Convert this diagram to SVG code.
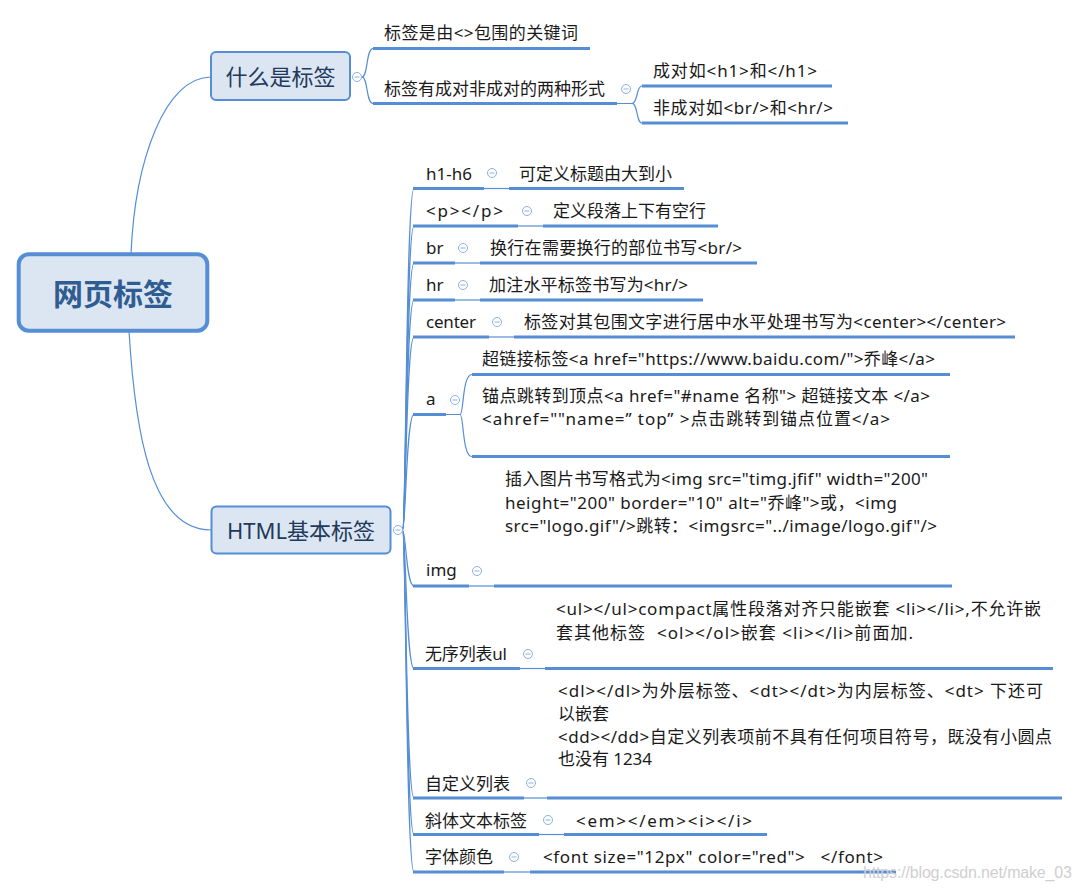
<svg xmlns="http://www.w3.org/2000/svg" xmlns:xlink="http://www.w3.org/1999/xlink" width="1081" height="889" viewBox="0 0 1081 889">
<style>
.t{font-family:'Noto Sans','Noto Sans CJK SC',sans-serif;font-size:17px;fill:#1a1a1a;white-space:pre}
.ln{fill:none;stroke:#558ED5;stroke-width:1.2}
.ul{fill:none;stroke:#558ED5;stroke-width:3}
.box{fill:#DCE6F2;stroke:#558ED5;stroke-width:2}
.bt{font-family:'Noto Sans','Noto Sans CJK SC',sans-serif;font-size:22px;fill:#22395c;text-anchor:middle}
.wm{font-family:'Liberation Sans',Arial,sans-serif;font-size:16px;fill:#cfcfcf}
</style>
<defs>
<g id="col"><circle r="4.5" fill="#fff" stroke="#8DB0E0" stroke-width="1"/><line x1="-2.5" x2="2.5" y1="0" y2="0" stroke="#8DB0E0" stroke-width="1"/></g>
</defs>
<rect width="1081" height="889" fill="#fff"/>
<g id="connectors">
<path class="ln" d="M131,254 C135,160 165,77 211,77"/>
<path class="ln" d="M129,331 C135,430 150,530 211,530"/>
<path class="ln" d="M362,77 C368,77 366,48.5 373,48.5"/>
<path class="ln" d="M362,77 C368,77 366,103.5 373,103.5"/>
<path class="ln" d="M617,103.5 L632,103.5 C638,103.5 636,86 642,86"/>
<path class="ln" d="M632,103.5 C638,103.5 636,123 642,123"/>
<path class="ln" d="M402.5,530 C406,530 406,188.5 414,188.5"/>
<path class="ln" d="M402.5,530 C406,530 406,226 414,226"/>
<path class="ln" d="M402.5,530 C406,530 406,263 414,263"/>
<path class="ln" d="M402.5,530 C406,530 406,300 414,300"/>
<path class="ln" d="M402.5,530 C406,530 406,337 414,337"/>
<path class="ln" d="M402.5,530 C406,530 406,414.5 414,414.5"/>
<path class="ln" d="M402.5,530 C406,530 406,586 414,586"/>
<path class="ln" d="M402.5,530 C406,530 406,668.5 414,668.5"/>
<path class="ln" d="M402.5,530 C406,530 406,798 414,798"/>
<path class="ln" d="M402.5,530 C406,530 406,834.5 414,834.5"/>
<path class="ln" d="M402.5,530 C406,530 406,872 414,872"/>
<path class="ln" d="M484,188.5 L509,188.5"/>
<path class="ln" d="M518,226 L543,226"/>
<path class="ln" d="M455,263 L480,263"/>
<path class="ln" d="M455,300 L480,300"/>
<path class="ln" d="M489,337 L514,337"/>
<path class="ln" d="M446,414.5 L460,414.5 C464,414.5 462,374.5 472,374.5"/>
<path class="ln" d="M460,414.5 C464,414.5 462,456.5 472,456.5"/>
<path class="ln" d="M469,586 L494,586"/>
<path class="ln" d="M520,668.5 L545,668.5"/>
<path class="ln" d="M524,798 L547,798"/>
<path class="ln" d="M539,834.5 L564,834.5"/>
<path class="ln" d="M504,872 L530,872"/>
</g>
<g id="root">
<rect x="18.7" y="254.3" width="188.6" height="76.4" rx="10" fill="#DCE6F2" stroke="#558ED5" stroke-width="4"/>
<text x="113" y="305" text-anchor="middle" style="font-family:'Noto Sans CJK SC',sans-serif;font-size:30px;font-weight:bold;fill:#305d91">网页标签</text>
</g>
<g id="what">
<rect class="box" x="211" y="52" width="139" height="48" rx="5"/>
<text class="bt" x="280.5" y="85">什么是标签</text>
<use href="#col" x="357" y="77"/>
</g>
<g id="what-1">
<text class="t" x="384" y="39" textLength="194">标签是由&lt;&gt;包围的关键词</text>
<line class="ul" x1="373" y1="48.5" x2="590" y2="48.5"/>
</g>
<g id="what-2">
<text class="t" x="384" y="94.5">标签有成对非成对的两种形式</text>
<line class="ul" x1="373" y1="103.5" x2="617" y2="103.5"/>
<use href="#col" x="626" y="89"/>
</g>
<g id="what-2-1">
<text class="t" x="653" y="77" textLength="164">成对如&lt;h1&gt;和&lt;/h1&gt;</text>
<line class="ul" x1="642" y1="86" x2="832" y2="86"/>
</g>
<g id="what-2-2">
<text class="t" x="653" y="114" textLength="180">非成对如&lt;br/&gt;和&lt;hr/&gt;</text>
<line class="ul" x1="642" y1="123" x2="848" y2="123"/>
</g>
<g id="html">
<rect class="box" x="211.5" y="506.5" width="179" height="47" rx="5"/>
<text class="bt" x="301" y="539">HTML基本标签</text>
<use href="#col" x="398" y="530"/>
</g>
<g id="h1h6">
<text class="t" x="426" y="179.5">h1-h6</text>
<line class="ul" x1="413" y1="188.5" x2="484" y2="188.5"/>
<use href="#col" x="492" y="173"/>
</g>
<g id="h1h6-1">
<text class="t" x="519" y="179.5">可定义标题由大到小</text>
<line class="ul" x1="509" y1="188.5" x2="684" y2="188.5"/>
</g>
<g id="p">
<text class="t" x="426" y="217" textLength="77">&lt;p&gt;&lt;/p&gt;</text>
<line class="ul" x1="413" y1="226" x2="518" y2="226"/>
<use href="#col" x="527" y="211"/>
</g>
<g id="p-1">
<text class="t" x="553" y="217">定义段落上下有空行</text>
<line class="ul" x1="543" y1="226" x2="718" y2="226"/>
</g>
<g id="br">
<text class="t" x="426" y="253.5">br</text>
<line class="ul" x1="413" y1="263" x2="455" y2="263"/>
<use href="#col" x="463" y="248"/>
</g>
<g id="br-1">
<text class="t" x="490" y="253.5" textLength="252">换行在需要换行的部位书写&lt;br/&gt;</text>
<line class="ul" x1="480" y1="263" x2="757" y2="263"/>
</g>
<g id="hr">
<text class="t" x="426" y="290.5">hr</text>
<line class="ul" x1="413" y1="300" x2="455" y2="300"/>
<use href="#col" x="463" y="285"/>
</g>
<g id="hr-1">
<text class="t" x="489" y="290.5" textLength="199">加注水平标签书写为&lt;hr/&gt;</text>
<line class="ul" x1="480" y1="300" x2="703" y2="300"/>
</g>
<g id="center">
<text class="t" x="426" y="327.5" textLength="50">center</text>
<line class="ul" x1="413" y1="337" x2="489" y2="337"/>
<use href="#col" x="497" y="322"/>
</g>
<g id="center-1">
<text class="t" x="524" y="327.5" textLength="482">标签对其包围文字进行居中水平处理书写为&lt;center&gt;&lt;/center&gt;</text>
<line class="ul" x1="514" y1="337" x2="1015" y2="337"/>
</g>
<g id="a">
<text class="t" x="426" y="405">a</text>
<line class="ul" x1="413" y1="414.5" x2="446" y2="414.5"/>
<use href="#col" x="455" y="400"/>
</g>
<g id="a-1">
<text class="t" x="482" y="364.5" textLength="453">超链接标签&lt;a href="https://www.baidu.com/"&gt;乔峰&lt;/a&gt;</text>
<line class="ul" x1="472" y1="374.5" x2="950" y2="374.5"/>
</g>
<g id="a-2">
<text class="t" x="482" y="401.5" textLength="448">锚点跳转到顶点&lt;a href="#name 名称"&gt; 超链接文本 &lt;/a&gt;</text>
<text class="t" x="482" y="424.5" textLength="408">&lt;ahref=""name=” top” &gt;点击跳转到锚点位置&lt;/a&gt;</text>
<line class="ul" x1="472" y1="456.5" x2="950" y2="456.5"/>
</g>
<g id="img">
<text class="t" x="426" y="576">img</text>
<line class="ul" x1="413" y1="586" x2="469" y2="586"/>
<use href="#col" x="477" y="571"/>
</g>
<g id="img-1">
<text class="t" x="505" y="484.5" textLength="423">插入图片书写格式为&lt;img src="timg.jfif" width="200"</text>
<text class="t" x="505" y="508.5" textLength="392">height="200" border="10" alt="乔峰"&gt;或，&lt;img</text>
<text class="t" x="505" y="531.5" textLength="432">src="logo.gif"/&gt;跳转：&lt;imgsrc="../image/logo.gif"/&gt;</text>
<line class="ul" x1="494" y1="586" x2="952" y2="586"/>
</g>
<g id="ul">
<text class="t" x="425" y="659.5" textLength="82">无序列表ul</text>
<line class="ul" x1="413" y1="668.5" x2="520" y2="668.5"/>
<use href="#col" x="528" y="654"/>
</g>
<g id="ul-1">
<text class="t" x="556" y="614.5" textLength="485">&lt;ul&gt;&lt;/ul&gt;compact属性段落对齐只能嵌套 &lt;li&gt;&lt;/li&gt;,不允许嵌</text>
<text class="t" x="556" y="638.5" textLength="357">套其他标签  &lt;ol&gt;&lt;/ol&gt;嵌套 &lt;li&gt;&lt;/li&gt;前面加.</text>
<line class="ul" x1="545" y1="668.5" x2="1053" y2="668.5"/>
</g>
<g id="dl">
<text class="t" x="425" y="789.5">自定义列表</text>
<line class="ul" x1="413" y1="798" x2="524" y2="798"/>
<use href="#col" x="531" y="783"/>
</g>
<g id="dl-1">
<text class="t" x="558" y="696.5" textLength="485">&lt;dl&gt;&lt;/dl&gt;为外层标签、&lt;dt&gt;&lt;/dt&gt;为内层标签、&lt;dt&gt; 下还可</text>
<text class="t" x="558" y="719.5">以嵌套</text>
<text class="t" x="558" y="742.5" textLength="494">&lt;dd&gt;&lt;/dd&gt;自定义列表项前不具有任何项目符号，既没有小圆点</text>
<text class="t" x="558" y="764.5" textLength="94">也没有 1234</text>
<line class="ul" x1="547" y1="798" x2="1062" y2="798"/>
</g>
<g id="em">
<text class="t" x="425" y="826.5">斜体文本标签</text>
<line class="ul" x1="413" y1="834.5" x2="539" y2="834.5"/>
<use href="#col" x="548" y="820"/>
</g>
<g id="em-1">
<text class="t" x="576" y="826.5" textLength="176">&lt;em&gt;&lt;/em&gt;&lt;i&gt;&lt;/i&gt;</text>
<line class="ul" x1="564" y1="834.5" x2="767" y2="834.5"/>
</g>
<g id="font">
<text class="t" x="425" y="862.5">字体颜色</text>
<line class="ul" x1="413" y1="872" x2="504" y2="872"/>
<use href="#col" x="514" y="857"/>
</g>
<g id="font-1">
<text class="t" x="543" y="862.5" textLength="340">&lt;font size="12px" color="red"&gt;   &lt;/font&gt;</text>
<line class="ul" x1="530" y1="872" x2="896" y2="872"/>
</g>
<text class="wm" x="863" y="878" textLength="209">https://blog.csdn.net/make_03</text>
</svg>
